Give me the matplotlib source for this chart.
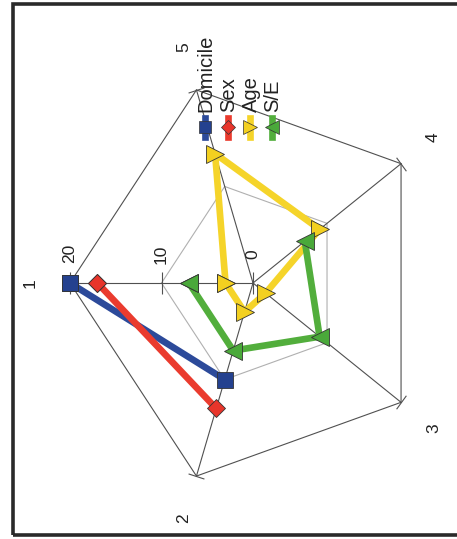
import numpy as np
import matplotlib
matplotlib.use("Agg")
import matplotlib.pyplot as plt
from matplotlib.lines import Line2D
from matplotlib.patches import Rectangle

plt.rcParams['font.family'] = ['Liberation Sans', 'DejaVu Sans']

# data
categories = ['1', '2', '3', '4', '5']
domicile = [20, 10, np.nan, np.nan, np.nan]
sex = [17, 13, np.nan, np.nan, np.nan]
age = [3, 3, 1.7, 9, 13.4]
se = [7, 7, 9, 7, np.nan]
r_ticks = [0, 10, 20]

series = [
    ('Domicile', domicile, '#24418f', '#2c4a9a', 's', 11),
    ('Sex', sex, '#e8352b', '#ea3b2e', 'D', 9),
    ('Age', age, '#f3d020', '#f5d42a', '>', 13),
    ('S/E', se, '#4aa93a', '#52ae3c', '<', 13),
]

W, H = 457, 539
fig = plt.figure(figsize=(W / 100, H / 100), dpi=100)

# outer frame
fig.add_artist(Rectangle((13 / W, 4 / H), 1.0, 1 - 8 / H, transform=fig.transFigure,
                         fill=False, lw=2.6, edgecolor='#2a2a2a'))

# polar axes, slightly stretched vertically like the original
cx, cy = 253 / W, 1 - 283 / H
hw, hh = 183 / W, 203 / H
ax = fig.add_axes([cx - hw, cy - hh, 2 * hw, 2 * hh], projection='polar')
ax.set_aspect('auto')
ax.set_theta_offset(np.pi)
ax.set_theta_direction(1)
ax.set_ylim(0, 20)
ax.grid(False)
ax.spines['polar'].set_visible(False)
ax.set_xticks([])
ax.set_yticks([])
ax.patch.set_visible(False)

n = len(categories)
theta = np.arange(n) * 2 * np.pi / n
theta_c = np.append(theta, theta[0])

# pentagon grid and spokes
ax.plot(theta_c, [10] * (n + 1), color='#b0b0b0', lw=0.8, zorder=1)
ax.plot(theta_c, [20] * (n + 1), color='#505050', lw=0.8, zorder=1, clip_on=False)
for i, t in enumerate(theta):
    ax.plot([t, t], [0, 20], color='#505050', lw=0.8, zorder=1, clip_on=False)
    ang = 180 + i * 72
    ax.plot([t], [20], marker=(2, 0, ang), ms=12, mew=0.8, color='#505050',
            zorder=1, clip_on=False)
    ax.text(t, 24.4, categories[i], rotation=90, ha='center', va='center',
            fontsize=12.5, color='#222222')

# value axis ticks / labels on axis 1
for v in r_ticks:
    ax.plot([0], [v], marker='|', ms=16, mew=0.8, color='#505050', zorder=1, clip_on=False)
    ax.annotate(str(v), xy=(0, v), xytext=(0, 21), textcoords='offset points',
                rotation=90, ha='center', va='center', fontsize=12.5, color='#222222')

# series
for k, (name, vals, mc, lc, mk, ms) in enumerate(series):
    vals_c = np.append(vals, vals[0])
    ax.plot(theta_c, vals_c, color=lc, lw=4.8, zorder=3 + k, clip_on=False,
            solid_capstyle='round')
    ax.plot(theta_c, vals_c, linestyle='none', marker=mk, ms=ms, mfc=mc,
            mec='#333333', mew=0.6, zorder=3 + k, clip_on=False)

# legend (rotated like the rest of the picture)
leg_x = [205, 228, 250, 272]
for (name, vals, mc, lc, mk, ms), x in zip(series, leg_x):
    fx = x / W
    fig.add_artist(Line2D([fx, fx], [1 - 137 / H, 1 - 118 / H], transform=fig.transFigure,
                          color=lc, lw=4.8, zorder=5))
    fig.add_artist(Line2D([fx], [1 - 127 / H], transform=fig.transFigure, marker=mk,
                          ms=ms * 0.75, mfc=mc, mec='#333333', mew=0.5, zorder=6))
    fig.text(fx + 1 / W, 1 - 112 / H, name, rotation=90, ha='center', va='bottom',
             fontsize=14.5, color='#222222', zorder=6)

fig.savefig('out.png', dpi=100)
